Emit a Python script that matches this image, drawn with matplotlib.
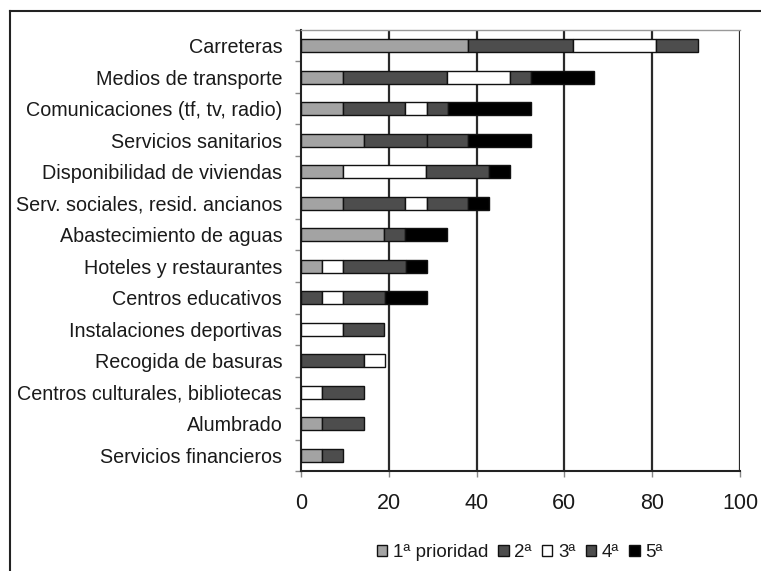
import numpy as np
import matplotlib
matplotlib.use('Agg')
import matplotlib.pyplot as plt
from matplotlib.lines import Line2D
from matplotlib.patches import Patch

plt.rcParams['font.family'] = 'Liberation Sans'

# Categories, top to bottom
categories = [
    "Carreteras",
    "Medios de transporte",
    "Comunicaciones (tf, tv, radio)",
    "Servicios sanitarios",
    "Disponibilidad de viviendas",
    "Serv. sociales, resid. ancianos",
    "Abastecimiento de aguas",
    "Hoteles y restaurantes",
    "Centros educativos",
    "Instalaciones deportivas",
    "Recogida de basuras",
    "Centros culturales, bibliotecas",
    "Alumbrado",
    "Servicios financieros",
]

# percentages per priority level
p1 = [38.1, 9.5, 9.5, 14.3, 9.5, 9.5, 19.0, 4.8, 0, 0, 0, 0, 4.8, 4.8]
p2 = [23.8, 23.8, 14.3, 14.3, 0, 14.3, 0, 0, 4.8, 0, 14.3, 0, 9.5, 4.8]
p3 = [19.0, 14.3, 4.8, 0, 19.0, 4.8, 0, 4.8, 4.8, 9.5, 4.8, 4.8, 0, 0]
p4 = [9.5, 4.8, 4.8, 9.5, 14.3, 9.5, 4.8, 14.3, 9.5, 9.5, 0, 9.5, 0, 0]
p5 = [0, 14.3, 19.0, 14.3, 4.8, 4.8, 9.5, 4.8, 9.5, 0, 0, 0, 0, 0]

series = [p1, p2, p3, p4, p5]
labels = ["1ª prioridad", "2ª", "3ª", "4ª", "5ª"]
colors = ["#a3a3a3", "#4d4d4d", "#ffffff", "#4d4d4d", "#000000"]

fig = plt.figure(figsize=(7.61, 5.71), dpi=100)
ax = fig.add_axes([0.3955, 0.1751, 0.5769, 0.7724])

y = np.arange(len(categories))
left = np.zeros(len(categories))
for vals, col in zip(series, colors):
    vals = np.array(vals, dtype=float)
    mask = vals > 0
    ax.barh(y[mask], vals[mask], left=left[mask], height=0.42,
            color=col, edgecolor='#111111', linewidth=1.0, zorder=3)
    left += vals

ax.set_xlim(0, 100)
ax.set_ylim(len(categories) - 0.5, -0.5)

# gridlines
for gx in [20, 40, 60, 80, 100]:
    ax.axvline(gx, color='#2a2a2a', lw=1.6, zorder=1)

ax.set_xticks([0, 20, 40, 60, 80, 100])
ax.tick_params(axis='x', length=4, width=1, color='#888888', pad=12,
               labelsize=15.5, labelcolor='#1a1a1a')

ax.set_yticks(y)
ax.set_yticklabels(categories)
ax.set_yticks(np.arange(len(categories) + 1) - 0.5, minor=True)
ax.tick_params(axis='y', which='major', length=0, pad=13.5,
               labelsize=14.2, labelcolor='#1a1a1a')
ax.tick_params(axis='y', which='minor', length=4, width=1, color='#888888')

ax.spines['left'].set_color('#222222')
ax.spines['left'].set_linewidth(1.5)
ax.spines['bottom'].set_color('#222222')
ax.spines['bottom'].set_linewidth(1.5)
ax.spines['top'].set_color('#999999')
ax.spines['top'].set_linewidth(1.0)
ax.spines['right'].set_visible(False)

handles = [Patch(facecolor=c, edgecolor='#111111', linewidth=1.0) for c in colors]
fig.legend(handles, labels, loc='center', bbox_to_anchor=(0.683, 0.032),
           ncol=5, frameon=False, fontsize=13.5, handlelength=0.55,
           handleheight=0.55, handletextpad=0.3, columnspacing=0.55,
           labelcolor='#1a1a1a')

# outer frame (top and left edges visible)
fig.add_artist(Line2D([10 / 761, 1], [1 - 11 / 571, 1 - 11 / 571],
                      color='#222222', lw=1.5, transform=fig.transFigure))
fig.add_artist(Line2D([10 / 761, 10 / 761], [0, 1 - 11 / 571],
                      color='#222222', lw=1.5, transform=fig.transFigure))

fig.savefig('out.png', dpi=100)
